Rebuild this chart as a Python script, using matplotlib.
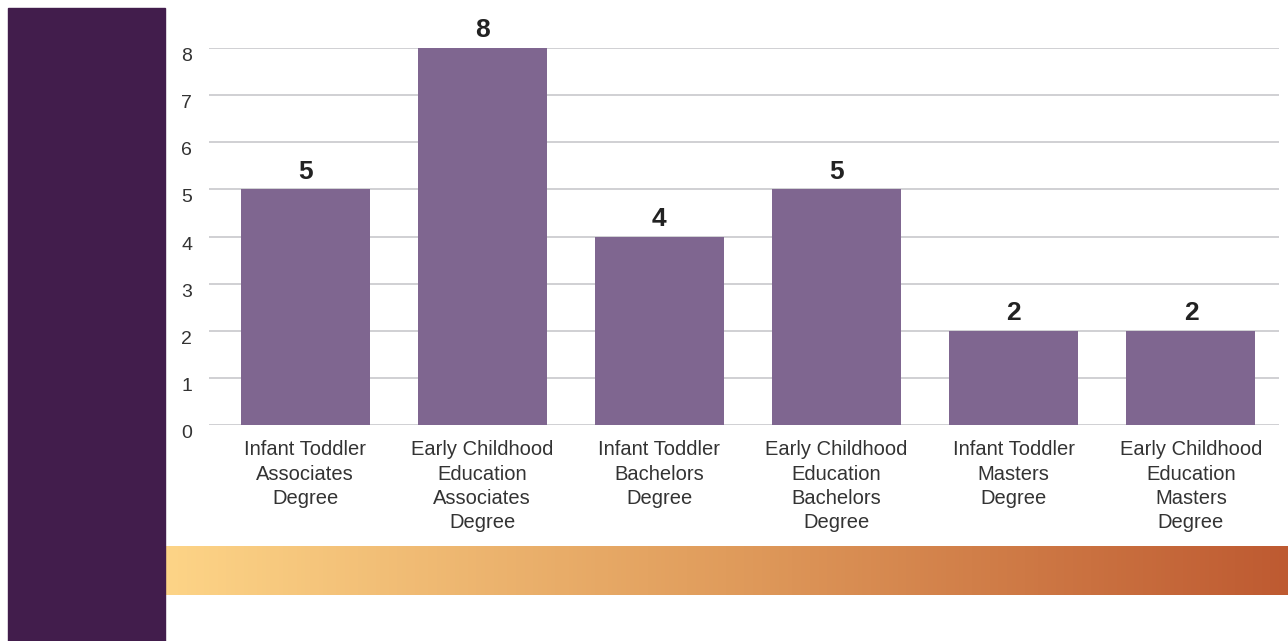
import numpy as np
import matplotlib.pyplot as plt
from matplotlib.colors import LinearSegmentedColormap
from matplotlib.patches import Rectangle

categories = ['Infant Toddler\nAssociates\nDegree',
              'Early Childhood\nEducation\nAssociates\nDegree',
              'Infant Toddler\nBachelors\nDegree',
              'Early Childhood\nEducation\nBachelors\nDegree',
              'Infant Toddler\nMasters\nDegree',
              'Early Childhood\nEducation\nMasters\nDegree']
counts = [5, 8, 4, 5, 2, 2]
yticks = [0, 1, 2, 3, 4, 5, 6, 7, 8]

plt.rcParams['font.family'] = ['Liberation Sans', 'DejaVu Sans']

W, H = 1288, 641
fig = plt.figure(figsize=(W / 100, H / 100), dpi=100)

# dark side panel
fig.patches.append(Rectangle((8 / W, 0), (165 - 8) / W, 1 - 8 / H,
                             transform=fig.transFigure, color='#421D4C', zorder=0))

# gradient band
band = fig.add_axes([165 / W, 1 - 595 / H, (W - 165) / W, 49 / H])
cmap = LinearSegmentedColormap.from_list('band', ['#FDD487', '#E09C5C', '#BE5A31'])
band.imshow(np.linspace(0, 1, 256)[None, :], aspect='auto', cmap=cmap)
band.axis('off')

ax = fig.add_axes([209 / W, 1 - 425 / H, (1279 - 209) / W, (425 - 48) / H])
x = np.arange(len(categories))
bars = ax.bar(x, counts, width=0.728, color='#7F6690', zorder=3)
ax.bar_label(bars, padding=4, fontsize=19, fontweight='bold', color='#222222')

ax.set_xlim(-0.542, 5.497)
ax.set_ylim(0, 8)
ax.set_yticks(yticks)
ax.set_xticks(x)
ax.set_xticklabels(categories, fontsize=14.5, color='#333333', linespacing=1.35)
ax.tick_params(axis='y', labelsize=14, colors='#333333', length=0, pad=12)
ax.tick_params(axis='x', length=0, pad=11)
for lbl in ax.get_yticklabels():
    lbl.set_verticalalignment('top')
ax.yaxis.grid(True, color='#C8C8CC', linewidth=1.2, zorder=0)
ax.set_axisbelow(True)
for s in ax.spines.values():
    s.set_visible(False)

fig.savefig('out.png', dpi=100)
